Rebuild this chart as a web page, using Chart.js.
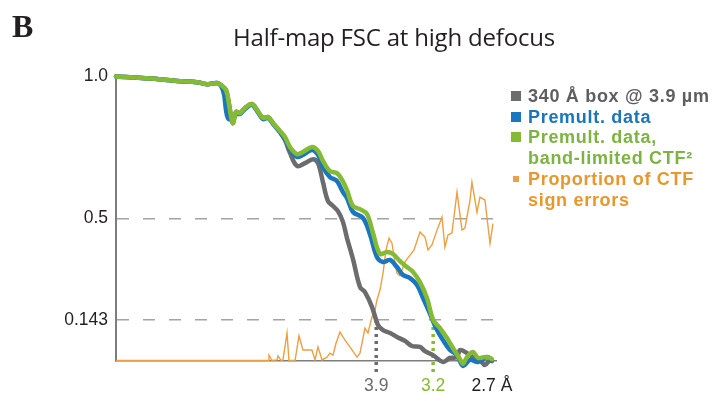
<!DOCTYPE html>
<html>
<head>
<meta charset="utf-8">
<script src="https://cdn.jsdelivr.net/npm/chart.js@4/dist/chart.umd.min.js"></script>
<style>
  html, body { margin: 0; padding: 0; background: #fff; }
  #wrap { position: relative; width: 717px; height: 401px; overflow: hidden; }
  #fsc { position: absolute; left: 0; top: 0; }
  #panel { position: absolute; left: 12px; top: 8px; font: bold 32px "Liberation Serif", serif; color: #231f20; }
  #title { position: absolute; left: 194px; width: 400px; top: 20px; text-align: center;
           font: 24px "Open Sans", sans-serif; letter-spacing: -0.2px; color: #231f20; }
  #legend { position: absolute; left: 511px; top: 86px; font: bold 18px "Liberation Sans", Arial, sans-serif;
            letter-spacing: 0.7px; line-height: 20.7px; white-space: nowrap; }
  #legend .row { position: relative; padding-left: 17px; }
  #legend .sw { position: absolute; left: 0; top: 5px; width: 10px; height: 10px; }
  #legend .sw.small { left: 2px; top: 7px; width: 6px; height: 6px; }
</style>
</head>
<body>
<div id="wrap">
  <canvas id="fsc" width="717" height="401"></canvas>
  <div id="panel">B</div>
  <div id="title">Half-map FSC at high defocus</div>
  <div id="legend"></div>
</div>
<script>
// Spatial frequency (1/Å) and FSC for each half-map curve
const boxFreq = [0, .0404, .0601, .0798, .0897, .0995, .1034, .1084, .1113, .1133, .1153, .1182, .1222, .1271, .1340, .1389, .1448, .1498, .1547, .1616, .1665, .1714, .1783, .1862, .1941, .1990, .2039, .2089, .2138, .2187, .2236, .2276, .2335, .2404, .2453, .2522, .2581, .2631, .2700, .2768, .2847, .2916, .2995, .3044, .3123, .3222, .3291, .3360, .3389, .3458, .3517, .3586, .3635, .3685, .3704];
const boxFsc  = [1.0, .991, .984, .980, .973, .977, .970, .952, .903, .861, .836, .875, .871, .889, .903, .882, .854, .857, .836, .804, .776, .731, .685, .695, .709, .695, .628, .561, .544, .526, .488, .431, .357, .259, .241, .189, .125, .107, .097, .083, .069, .051, .048, .033, .019, -.005, .009, .012, .037, .026, .012, .002, -.016, .002, -.002];

const premultFreq = [0, .0404, .0601, .0798, .0897, .0995, .1034, .1064, .1084, .1103, .1143, .1182, .1222, .1271, .1340, .1389, .1448, .1498, .1547, .1616, .1665, .1714, .1783, .1842, .1931, .1990, .2039, .2108, .2177, .2236, .2276, .2335, .2433, .2502, .2571, .2631, .2700, .2768, .2828, .2897, .2966, .3025, .3094, .3163, .3222, .3291, .3360, .3419, .3488, .3567, .3655, .3704];
const premultFsc  = [1.0, .991, .984, .980, .973, .977, .967, .938, .882, .854, .847, .868, .868, .885, .900, .879, .850, .854, .833, .804, .780, .745, .717, .724, .741, .724, .681, .646, .632, .593, .572, .523, .502, .445, .364, .347, .354, .329, .301, .290, .266, .220, .164, .107, .072, .037, .019, -.019, .002, -.005, .012, .002];

const bandFreq = [0, .0404, .0601, .0798, .0897, .0995, .1034, .1084, .1113, .1133, .1153, .1182, .1222, .1271, .1340, .1389, .1448, .1498, .1547, .1616, .1665, .1714, .1783, .1842, .1931, .1990, .2039, .2108, .2177, .2227, .2276, .2335, .2404, .2473, .2532, .2601, .2670, .2729, .2798, .2867, .2926, .2995, .3064, .3125, .3192, .3261, .3320, .3389, .3419, .3458, .3517, .3567, .3635, .3685, .3704];
const bandFsc  = [1.0, .991, .984, .980, .973, .977, .970, .952, .903, .861, .836, .875, .871, .889, .903, .882, .854, .857, .836, .808, .787, .752, .727, .734, .752, .738, .703, .667, .660, .636, .600, .544, .533, .516, .449, .375, .382, .375, .350, .329, .312, .276, .220, .143, .114, .079, .044, .005, -.012, .012, .030, .009, .012, .009, .005];

// Fraction of CTF sign errors per shell
const errFreq = [0, .1498, .1507, .1537, .1586, .1596, .1626, .1645, .1685, .1704, .1764, .1803, .1842, .1892, .1931, .1961, .1990, .2030, .2079, .2108, .2138, .2167, .2207, .2256, .2305, .2374, .2404, .2453, .2483, .2522, .2552, .2571, .2601, .2631, .2660, .2690, .2719, .2749, .2768, .2798, .2847, .2897, .2936, .2995, .3044, .3074, .3113, .3163, .3212, .3241, .3271, .3310, .3360, .3409, .3438, .3488, .3507, .3557, .3586, .3635, .3685, .3714];
const errFrac = [0, 0, .019, 0, .002, .016, 0, .002, .097, 0, 0, .087, .037, .037, .037, .002, .048, .002, .012, .026, .019, .060, .100, .072, .048, .012, .026, .114, .097, .153, .178, .213, .248, .308, .389, .431, .413, .343, .308, .298, .347, .371, .389, .452, .435, .389, .407, .459, .505, .399, .442, .449, .593, .459, .466, .565, .628, .522, .575, .565, .412, .482];

// Axis ticks
const fscTicks = [1.0, 0.5, 0.143];
const fscTickLabels = ['1.0', '0.5', '0.143'];
const resolutionTicks = [3.9, 3.2, 2.7];          // Å
const resolutionLabels = ['3.9', '3.2', '2.7 Å'];
const threshold = 0.143;

const GREY = '#6b6c6e', BLUE = '#1b76c0', GREEN = '#85bb34', ORANGE = '#eba043';
const resolutionColors = [GREY, GREEN, '#231f20'];

const legendItems = [
  { color: GREY,   text: ['340 Å box @ 3.9 µm'], textColor: '#5d5e60' },
  { color: BLUE,   text: ['Premult. data'], textColor: '#1b75bb' },
  { color: GREEN,  text: ['Premult. data,', 'band-limited CTF²'], textColor: '#7cb342' },
  { color: ORANGE, text: ['Proportion of CTF', 'sign errors'], textColor: '#e8962e', small: true }
];

const pts = (xs, ys) => xs.map((x, i) => ({ x, y: ys[i] }));
const fscLine = (label, xs, ys, color) => ({
  label, data: pts(xs, ys), borderColor: color, borderWidth: 4.5,
  tension: 0.35, pointRadius: 0, clip: false, borderCapStyle: 'round', borderJoinStyle: 'round'
});
// Dotted drop from the 0.143 threshold down to the resolution label
const dropLine = (res, color) => ({
  label: res + ' Å cutoff',
  data: [{ x: 1 / res, y: threshold }, { x: 1 / res, y: -0.045 }],
  borderColor: color, borderWidth: 3.5, borderDash: [3, 4], pointRadius: 0, clip: false
});

new Chart(document.getElementById('fsc'), {
  type: 'line',
  data: {
    datasets: [
      fscLine('Premult. data, band-limited CTF²', bandFreq, bandFsc, GREEN),
      fscLine('Premult. data', premultFreq, premultFsc, BLUE),
      fscLine('340 Å box @ 3.9 µm', boxFreq, boxFsc, GREY),
      dropLine(3.2, GREEN),
      dropLine(3.9, GREY),
      { label: 'Proportion of CTF sign errors', data: pts(errFreq, errFrac), borderColor: ORANGE,
        borderWidth: 1.4, tension: 0, pointRadius: 0, clip: false }
    ]
  },
  options: {
    responsive: false,
    animation: false,
    layout: { padding: { left: 0, top: 76.5, right: 220.4, bottom: 0 } },
    plugins: { legend: { display: false }, tooltip: { enabled: false } },
    scales: {
      x: {
        type: 'linear', min: 0, max: 0.375,
        afterFit: s => { s.height = 40.5; },
        afterBuildTicks: s => { s.ticks = resolutionTicks.map(r => ({ value: 1 / r })); },
        grid: { display: false },
        border: { color: '#7d7d7d', width: 1.5 },
        ticks: {
          autoSkip: false, maxRotation: 0, padding: 7,
          font: { family: 'Liberation Sans', size: 17.5 },
          color: c => resolutionColors[c.index],
          callback: (v, i) => resolutionLabels[i]
        }
      },
      y: {
        min: 0, max: 1,
        afterFit: s => { s.width = 116; },
        afterBuildTicks: s => { s.ticks = fscTicks.map(v => ({ value: v })); },
        grid: {
          drawTicks: false, lineWidth: 1.5,
          color: c => (c.tick && c.tick.value === 1) ? 'rgba(0,0,0,0)' : '#a3a3a3'
        },
        border: { color: '#7d7d7d', width: 2, dash: [12, 14] },
        ticks: {
          padding: 8, color: '#231f20',
          font: { family: 'Liberation Sans', size: 17.5 },
          callback: (v, i) => fscTickLabels[i]
        }
      }
    }
  }
});

// Legend
const legend = document.getElementById('legend');
legendItems.forEach(item => {
  item.text.forEach((line, k) => {
    const row = document.createElement('div');
    row.className = 'row';
    row.style.color = item.textColor;
    if (k === 0) {
      const sw = document.createElement('span');
      sw.className = 'sw' + (item.small ? ' small' : '');
      sw.style.background = item.color;
      row.appendChild(sw);
    }
    row.appendChild(document.createTextNode(line));
    legend.appendChild(row);
  });
});
</script>
</body>
</html>
